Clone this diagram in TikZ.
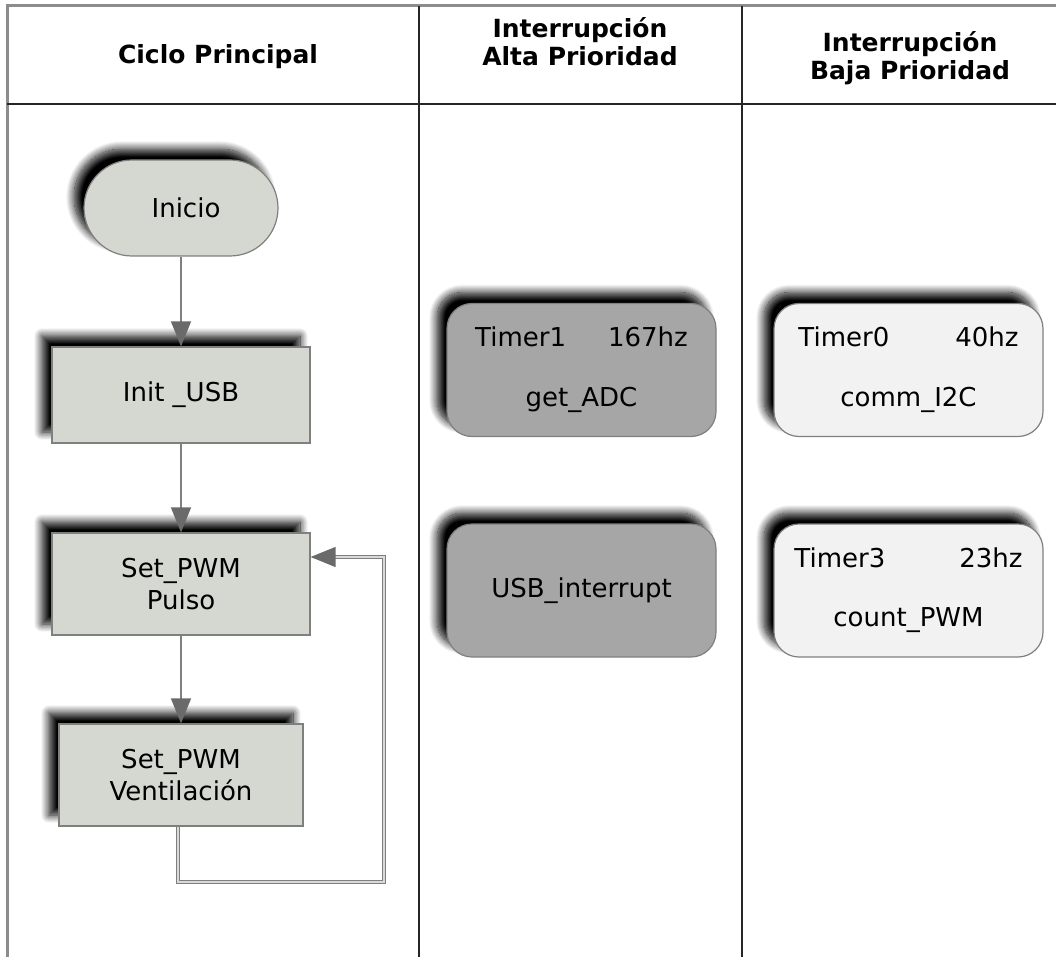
\documentclass[tikz,border=0pt]{standalone}
\usepackage{fontspec}
\setmainfont{DejaVu Sans}
\usetikzlibrary{arrows.meta,shadows.blur,calc}

\definecolor{flowfill}{HTML}{D5D7D1}
\definecolor{edgegray}{HTML}{7F7F7F}
\definecolor{darkbox}{HTML}{A6A6A6}
\definecolor{lightbox}{HTML}{F2F2F2}
\definecolor{framegray}{HTML}{8C8C8C}
\definecolor{tipgray}{HTML}{6A6A6A}

\tikzset{
  bodyfont/.style={font=\fontsize{26pt}{32pt}\selectfont},
  headfont/.style={font=\bfseries\fontsize{25pt}{28pt}\selectfont},
  softshadow/.style={blur shadow={shadow xshift=-10pt, shadow yshift=11pt,
      shadow blur radius=8pt, shadow blur steps=14, shadow opacity=100}},
  procbox/.style={draw=edgegray, line width=1.2pt, fill=flowfill, rectangle,
      inner sep=0pt, align=center, bodyfont, softshadow},
  termbox/.style={procbox, rounded corners=48pt},
  darkirq/.style={draw=edgegray, line width=1.2pt, fill=darkbox, rectangle,
      rounded corners=25pt, minimum width=269pt, minimum height=133pt,
      inner sep=0pt, align=center, bodyfont, softshadow},
  lightirq/.style={darkirq, fill=lightbox},
  flow/.style={draw=edgegray, line width=1.3pt,
      -{Triangle[length=25pt, width=20pt, color=tipgray, fill=tipgray]}},
  loopline/.style={draw=edgegray, line width=1.5pt, double=white!85!black,
      double distance=1.6pt},
  frame/.style={draw=framegray, line width=3pt},
  rule/.style={draw=black!85, line width=1.5pt}
}

\begin{document}
\begin{tikzpicture}[x=1pt, y=-1pt]
\useasboundingbox (0,0) rectangle (1056,957);

% table frame and column rules
\draw[frame] (7,957) -- (7,6) -- (1056,6);
\draw[rule] (7,104) -- (1056,104);
\draw[rule] (419,6) -- (419,957);
\draw[rule] (742,6) -- (742,957);

% column headings
\node[headfont] (h1) at (218,57) {Ciclo Principal};
\node[headfont, align=center] (h2) at (580,42) {Interrupción\\Alta Prioridad};
\node[headfont, align=center] (h3) at (910,58) {Interrupción\\Baja Prioridad};

% main loop flowchart
\node[termbox, minimum width=194pt, minimum height=96pt] (ini) at (181,208) {\hspace{10pt}Inicio};
\node[procbox, minimum width=258pt, minimum height=96pt] (usb) at (181,395) {Init \_USB};
\node[procbox, minimum width=258pt, minimum height=102pt] (pul) at (181,584) {Set\_PWM\\Pulso};
\node[procbox, minimum width=244pt, minimum height=102pt] (ven) at (181,775) {Set\_PWM\\Ventilación};

\draw[flow] (ini) -- (usb);
\draw[flow] (usb) -- (pul);
\draw[flow] (pul) -- (ven);

% return path back to Set_PWM Pulso
\coordinate (lbase) at (334,557);
\draw[loopline] ([xshift=-3pt]ven.south) |- (384,882) |- (lbase);
\draw[flow] (lbase) -- ([yshift=27pt]pul.east);

% high priority interrupts
\node[darkirq, font=\fontsize{26pt}{60pt}\selectfont] (t1) at (581.5,370)
  {Timer1\hspace{42pt}167hz\\get\_ADC};
\node[darkirq] (usbi) at (581.5,590.5) {USB\_interrupt};

% low priority interrupts
\node[lightirq, font=\fontsize{26pt}{60pt}\selectfont] (t0) at (908.5,370)
  {Timer0\hspace{66pt}40hz\\comm\_I2C};
\node[lightirq, font=\fontsize{26pt}{59pt}\selectfont] (t3) at (908.5,590.5)
  {Timer3\hspace{74pt}23hz\\count\_PWM};
\end{tikzpicture}
\end{document}
